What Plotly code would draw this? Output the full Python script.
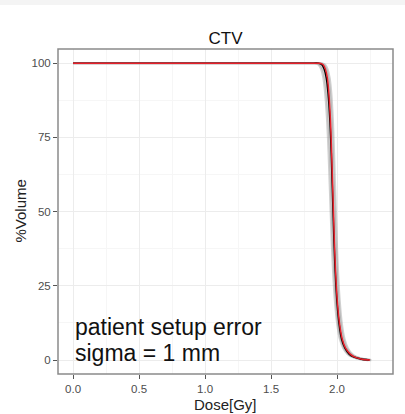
import plotly.graph_objects as go

# Cumulative DVH for the CTV: volume levels shared by every curve
volume_pct = [100, 100, 100, 99.5, 98, 95, 90, 80, 70, 60, 50, 40, 30, 20, 12, 7, 4, 2, 1, 0.3, 0]

# Dose [Gy] reached at each volume level
dose_nominal = [0, 1.8, 1.87, 1.895, 1.912, 1.927, 1.938, 1.951, 1.959, 1.966, 1.973, 1.98, 1.989,
                2.002, 2.02, 2.04, 2.065, 2.1, 2.135, 2.19, 2.25]
dose_mean = [0, 1.8, 1.86, 1.885, 1.903, 1.919, 1.932, 1.947, 1.956, 1.963, 1.97, 1.977, 1.986,
             1.999, 2.016, 2.035, 2.06, 2.092, 2.128, 2.185, 2.245]
dose_scenarios = [
    [0, 1.78, 1.83, 1.86, 1.88, 1.897, 1.91, 1.926, 1.936, 1.944, 1.952, 1.96, 1.97,
     1.984, 2.002, 2.022, 2.047, 2.08, 2.118, 2.175, 2.235],
    [0, 1.79, 1.845, 1.872, 1.892, 1.908, 1.921, 1.937, 1.947, 1.955, 1.962, 1.97, 1.98,
     1.993, 2.01, 2.03, 2.055, 2.088, 2.125, 2.18, 2.24],
    [0, 1.81, 1.875, 1.9, 1.918, 1.934, 1.946, 1.96, 1.968, 1.975, 1.982, 1.989, 1.998,
     2.011, 2.028, 2.048, 2.073, 2.106, 2.142, 2.198, 2.255],
    [0, 1.82, 1.885, 1.91, 1.928, 1.944, 1.956, 1.969, 1.977, 1.984, 1.991, 1.998, 2.007,
     2.02, 2.037, 2.057, 2.082, 2.115, 2.15, 2.205, 2.26],
]

x_ticks = [0.0, 0.5, 1.0, 1.5, 2.0]
x_tick_labels = ["0.0", "0.5", "1.0", "1.5", "2.0"]
y_ticks = [0, 25, 50, 75, 100]
y_tick_labels = ["0", "25", "50", "75", "100"]

FONT = "Liberation Sans, Arial, sans-serif"

fig = go.Figure()
for d in dose_scenarios:
    fig.add_trace(go.Scatter(x=d, y=volume_pct, mode="lines",
                             line=dict(color="rgba(150,150,150,0.45)", width=2.2,
                                       shape="spline", smoothing=0.6),
                             hoverinfo="skip", showlegend=False))
fig.add_trace(go.Scatter(x=dose_mean, y=volume_pct, mode="lines",
                         line=dict(color="#000000", width=1.6, shape="spline", smoothing=0.6),
                         showlegend=False))
fig.add_trace(go.Scatter(x=dose_nominal, y=volume_pct, mode="lines",
                         line=dict(color="#e8202a", width=1.5, shape="spline", smoothing=0.6),
                         showlegend=False))

axis_common = dict(
    showline=False, zeroline=False, ticks="outside", ticklen=4, tickwidth=1,
    tickcolor="#555555", showgrid=True, gridcolor="#ececec", gridwidth=1,
    tickfont=dict(family=FONT, size=11.5, color="#4d4d4d"), automargin=False,
)

fig.update_xaxes(range=[-0.114, 2.424], tickvals=x_ticks, ticktext=x_tick_labels,
                 minor=dict(dtick=0.25, showgrid=True, gridcolor="#f6f6f6", ticks=""),
                 **axis_common)
fig.update_yaxes(range=[-4.7, 104.8], tickvals=y_ticks, ticktext=y_tick_labels,
                 minor=dict(dtick=12.5, showgrid=True, gridcolor="#f6f6f6", ticks=""),
                 **axis_common)

# Axis titles
fig.add_annotation(x=0.5, y=-30 / 325, xref="paper", yref="paper", xanchor="center",
                   yanchor="middle", text="Dose[Gy]", showarrow=False,
                   font=dict(family=FONT, size=15, color="#222222"))
fig.add_annotation(x=-38 / 335, y=0.5, xref="paper", yref="paper", xanchor="center",
                   yanchor="middle", text="%Volume", textangle=-90, showarrow=False,
                   font=dict(family=FONT, size=15, color="#222222"))

# Panel border and thin light band at the very top
fig.add_shape(type="rect", xref="paper", yref="paper", x0=0, x1=1, y0=0, y1=1,
              line=dict(color="#8a8a8a", width=1.5), fillcolor="rgba(0,0,0,0)", layer="above")
fig.add_shape(type="rect", xref="paper", yref="paper", x0=-0.2, x1=1.1,
              y0=1 + 44 / 325, y1=1 + 49 / 325, line=dict(width=0), fillcolor="#f4f4f4")

fig.add_annotation(x=0, y=6.2, xref="x", yref="y", xanchor="left", yanchor="bottom",
                   text="patient setup error", showarrow=False,
                   font=dict(family=FONT, size=23, color="#111111"))
fig.add_annotation(x=0, y=-2.8, xref="x", yref="y", xanchor="left", yanchor="bottom",
                   text="sigma = 1 mm", showarrow=False,
                   font=dict(family=FONT, size=23, color="#111111"))

fig.update_layout(
    width=405, height=414,
    margin=dict(l=58, r=12, t=49, b=40),
    paper_bgcolor="white", plot_bgcolor="white",
    title=dict(text="CTV", x=0.5, xanchor="center", xref="paper",
               y=1 - 38 / 414, yanchor="middle",
               font=dict(family=FONT, size=17, color="#111111")),
)

fig.write_html("out.html")
